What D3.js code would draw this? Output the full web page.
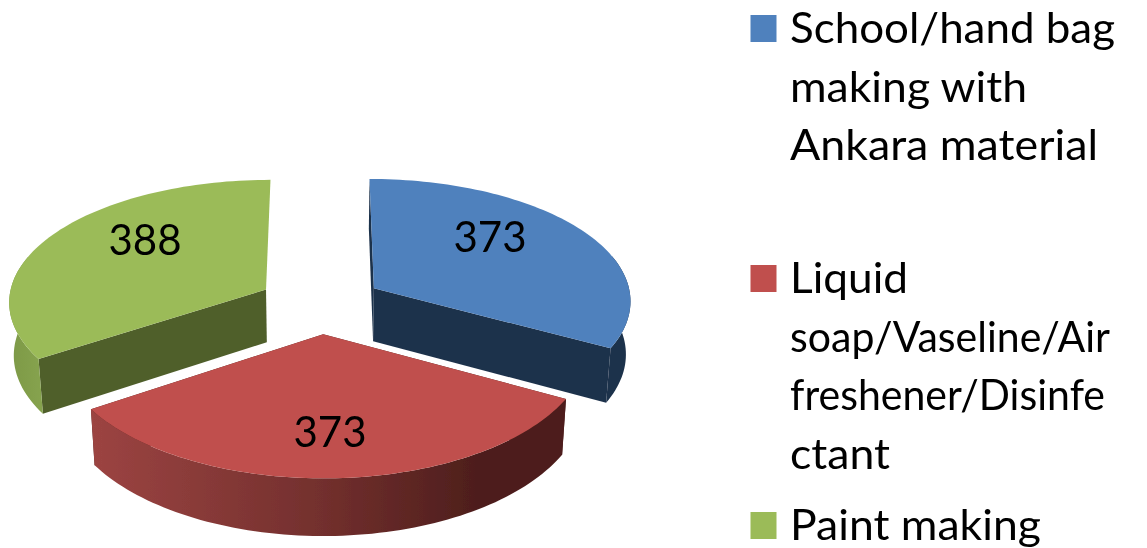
<!DOCTYPE html>
<html>
<head>
<meta charset="utf-8">
<script src="https://cdn.jsdelivr.net/npm/d3@7"></script>
<style>
html,body{margin:0;padding:0;background:#fff;overflow:hidden}
text{font-family:Lato,"Open Sans",sans-serif;fill:#000}
</style>
</head>
<body>
<svg id="chart" width="1147" height="548"></svg>
<script>
const categories = ["School/hand bag making with Ankara material", "Liquid soap/Vaseline/Air freshener/Disinfectant", "Paint making"];
const values = [373, 373, 388];
const legendLines = [
  ["School/hand bag", "making with", "Ankara material"],
  ["Liquid", "soap/Vaseline/Air", "freshener/Disinfe", "ctant"],
  ["Paint making"]
];
const topColors = ["#4f81bd", "#c0504d", "#9bbb59"];
const wallColors = ["#1f334c", "#4f1f1d", "#505f2c"];

const svg = d3.select("#chart");
const defs = svg.append("defs");
defs.append("filter").attr("id", "soft").attr("x", 0).attr("y", 0)
  .attr("filterUnits", "userSpaceOnUse").attr("width", 1147).attr("height", 548)
  .append("feGaussianBlur").attr("stdDeviation", 0.55);
const root = svg.append("g").attr("filter", "url(#soft)");

// projection of the exploded pie: u right, v toward viewer, z down
const cx = 320.6, cy = 303.5, R = 258, A = 123.2, D = 54, explode = 0.243, perspX = 0.09, perspY = 0.1, pz = 0.015;
const project = (u, v, z) => {
  const sx = 1 / (1 - perspX * v + pz * z);
  const sy = 1 / (1 - perspY * v + pz * z);
  return [cx + R * u * sx, cy + (A * v + D * z) * sy];
};

const arcs = d3.pie().sort(null).value(d => d)(values);
const line = d3.line();

const redGrad = defs.append("linearGradient").attr("id", "outer1")
  .attr("gradientUnits", "userSpaceOnUse").attr("x1", 92).attr("x2", 480).attr("y1", 0).attr("y2", 0);
redGrad.append("stop").attr("offset", 0).attr("stop-color", "#9c4442");
redGrad.append("stop").attr("offset", 0.6).attr("stop-color", "#722f2d");
redGrad.append("stop").attr("offset", 1).attr("stop-color", "#4d1e1c");
const grnGrad = defs.append("linearGradient").attr("id", "outer2")
  .attr("gradientUnits", "userSpaceOnUse").attr("x1", 10).attr("x2", 45).attr("y1", 0).attr("y2", 0);
grnGrad.append("stop").attr("offset", 0).attr("stop-color", "#7d9947");
grnGrad.append("stop").attr("offset", 1).attr("stop-color", "#87a44f");

const outerFill = i => i === 0 ? wallColors[0] : `url(#outer${i})`;

// far slices first, the front slice on top
[0, 2, 1].forEach(i => {
  const a = arcs[i];
  const mid = (a.startAngle + a.endAngle) / 2;
  const ox = Math.sin(mid) * explode, oy = -Math.cos(mid) * explode;
  const rim = t => [ox + Math.sin(t), oy - Math.cos(t)];
  const angles = d3.range(0, 81).map(k => a.startAngle + (a.endAngle - a.startAngle) * k / 80);
  const g = root.append("g");
  const wall = (p, q, fill) => g.append("path")
    .attr("d", line([project(p[0], p[1], 0), project(q[0], q[1], 0), project(q[0], q[1], 1), project(p[0], p[1], 1)]) + "Z")
    .attr("fill", fill);
  wall([ox, oy], rim(a.startAngle), wallColors[i]);
  if (i !== 2) wall([ox, oy], rim(a.endAngle), wallColors[i]); // the green slice's right face stays out of sight
  const top = angles.map(t => project(...rim(t), 0));
  // only the part of the outer wall that faces the viewer
  const front = angles.filter(t => Math.cos(t) < 0.3);
  const upper = front.map(t => project(...rim(t), 0));
  const lower = front.map(t => project(...rim(t), 1)).reverse();
  g.append("path").attr("d", line(upper.concat(lower)) + "Z").attr("fill", outerFill(i));
  g.append("path").attr("d", line([project(ox, oy, 0)].concat(top)) + "Z").attr("fill", topColors[i]);
});

// data labels
const labelX = [490, 330, 145], labelY = [252, 447, 255];
values.forEach((v, i) => {
  root.append("text").attr("x", labelX[i]).attr("y", labelY[i])
    .attr("text-anchor", "middle").attr("font-size", 42).text(v);
});

// legend
const legendStart = [43, 293, 540], lineStep = 58.5;
const lineWidths = [[325, 237, 308], [118, 320, 315, 100], [251]];
legendLines.forEach((lines, i) => {
  root.append("rect").attr("x", 750.5).attr("y", legendStart[i] - 28).attr("width", 26).attr("height", 27)
    .attr("fill", topColors[i]);
  lines.forEach((t, j) => {
    root.append("text").attr("x", 790).attr("y", legendStart[i] + j * lineStep)
      .attr("font-size", 42)
      .attr("textLength", lineWidths[i][j]).attr("lengthAdjust", "spacingAndGlyphs")
      .text(t);
  });
});
</script>
</body>
</html>
